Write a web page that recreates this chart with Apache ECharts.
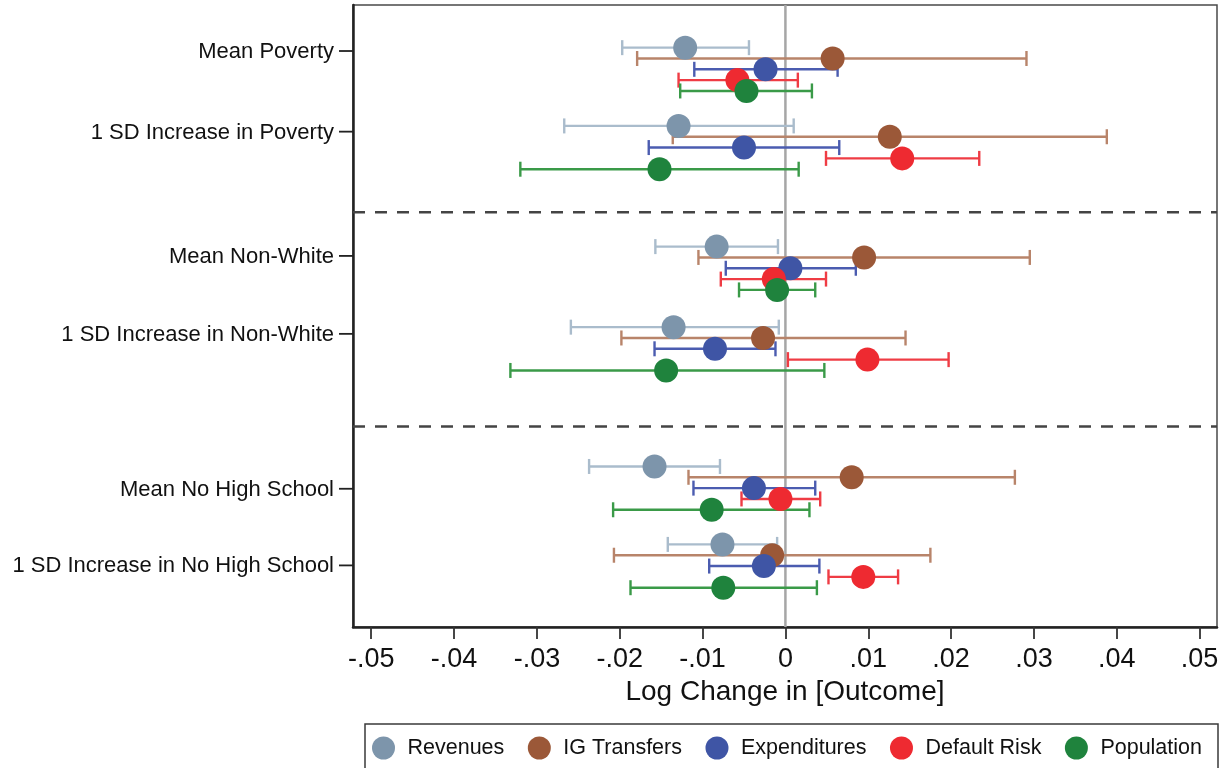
<!DOCTYPE html>
<html>
<head>
<meta charset="utf-8">
<script src="https://cdn.jsdelivr.net/npm/echarts@6/dist/echarts.min.js"></script>
<style>
  html, body { margin: 0; padding: 0; background: #fff; }
  #chart { width: 1229px; height: 768px; }
</style>
</head>
<body>
<div id="chart"></div>
<script>
// Row labels, top to bottom
const categories = [
  'Mean Poverty',
  '1 SD Increase in Poverty',
  'Mean Non-White',
  '1 SD Increase in Non-White',
  'Mean No High School',
  '1 SD Increase in No High School'
];
const seriesNames = ['Revenues', 'IG Transfers', 'Expenditures', 'Default Risk', 'Population'];

// Point estimates and confidence bounds (log change), one value per row
const revenuesEst  = [-0.0121, -0.0129, -0.0083, -0.0135, -0.0158, -0.0076];
const revenuesLow  = [-0.0197, -0.0267, -0.0157, -0.0259, -0.0237, -0.0142];
const revenuesHigh = [-0.0044,  0.0010, -0.0009, -0.0008, -0.0079, -0.0010];

const transfersEst  = [ 0.0057,  0.0126,  0.0095, -0.0027,  0.0080, -0.0016];
const transfersLow  = [-0.0179, -0.0136, -0.0105, -0.0198, -0.0117, -0.0207];
const transfersHigh = [ 0.0291,  0.0388,  0.0295,  0.0145,  0.0277,  0.0175];

const expendituresEst  = [-0.0024, -0.0050,  0.0006, -0.0085, -0.0038, -0.0026];
const expendituresLow  = [-0.0110, -0.0165, -0.0072, -0.0158, -0.0111, -0.0092];
const expendituresHigh = [ 0.0063,  0.0065,  0.0085, -0.0012,  0.0036,  0.0041];

const defaultEst  = [-0.0058,  0.0141, -0.0014,  0.0099, -0.0006,  0.0094];
const defaultLow  = [-0.0129,  0.0049, -0.0078,  0.0003, -0.0053,  0.0052];
const defaultHigh = [ 0.0015,  0.0234,  0.0049,  0.0197,  0.0042,  0.0136];

const populationEst  = [-0.0047, -0.0152, -0.0010, -0.0144, -0.0089, -0.0075];
const populationLow  = [-0.0127, -0.0320, -0.0056, -0.0332, -0.0208, -0.0187];
const populationHigh = [ 0.0032,  0.0016,  0.0036,  0.0047,  0.0029,  0.0038];

// Vertical layout in row units (one unit = spacing between stacked series)
const rowStart = [3.94, 11.17, 22.32, 29.76, 42.63, 49.83];
const labelPos = [4.25, 11.70, 23.18, 30.38, 44.69, 51.77];
const dividerPos = [19.14, 38.94];
const yMax = 57.46;

// x-axis tick values
const xTicks = [-0.05, -0.04, -0.03, -0.02, -0.01, 0, 0.01, 0.02, 0.03, 0.04, 0.05];

const estimates = [revenuesEst, transfersEst, expendituresEst, defaultEst, populationEst];
const lows = [revenuesLow, transfersLow, expendituresLow, defaultLow, populationLow];
const highs = [revenuesHigh, transfersHigh, expendituresHigh, defaultHigh, populationHigh];

const pointColors = ['#7d95ab', '#9b5838', '#3f55a5', '#ee2a31', '#1f833d'];
const barColors   = ['#aabccc', '#b8846a', '#4b5cb0', '#ef3c44', '#3a9a48'];

const FONT = '"Liberation Sans", Arial, Helvetica, sans-serif';
const TEXT = '#111111';

function fmtTick(v) {
  if (Math.abs(v) < 1e-9) return '0';
  const s = Math.abs(v).toFixed(2).replace(/^0/, '');
  return (v < 0 ? '-' : '') + s;
}

const series = [];

// Zero reference line
series.push({
  name: 'zero',
  type: 'custom',
  silent: true,
  data: [[0, 0]],
  encode: { x: 0, y: 1 },
  renderItem: function (params, api) {
    const cs = params.coordSys;
    const x = api.coord([0, 0])[0];
    return {
      type: 'line',
      shape: { x1: x, y1: cs.y, x2: x, y2: cs.y + cs.height },
      style: { stroke: '#a6a6a6', lineWidth: 2.5 }
    };
  }
});

// Dashed dividers between variable groups
series.push({
  name: 'dividers',
  type: 'custom',
  silent: true,
  data: dividerPos.map(p => [0, p]),
  encode: { x: 0, y: 1 },
  renderItem: function (params, api) {
    const cs = params.coordSys;
    const y = api.coord([0, api.value(1)])[1];
    return {
      type: 'line',
      shape: { x1: cs.x, y1: y, x2: cs.x + cs.width, y2: y },
      style: { stroke: '#444', lineWidth: 2.5, lineDash: [12, 10] }
    };
  }
});

// Row labels with outward ticks on the left axis
series.push({
  name: 'rowLabels',
  type: 'custom',
  silent: true,
  data: labelPos.map(p => [0, p]),
  encode: { x: 0, y: 1 },
  renderItem: function (params, api) {
    const cs = params.coordSys;
    const y = api.coord([0, api.value(1)])[1];
    return {
      type: 'group',
      children: [
        {
          type: 'line',
          shape: { x1: cs.x - 14, y1: y, x2: cs.x, y2: y },
          style: { stroke: '#222', lineWidth: 1.8 }
        },
        {
          type: 'text',
          style: {
            text: categories[params.dataIndex],
            x: cs.x - 19,
            y: y + 1,
            align: 'right',
            verticalAlign: 'middle',
            textAlign: 'right',
            textVerticalAlign: 'middle',
            font: '22px ' + FONT,
            fill: TEXT
          }
        }
      ]
    };
  }
});

seriesNames.forEach(function (name, s) {
  const barData = categories.map((c, r) => [lows[s][r], highs[s][r], rowStart[r] + s]);
  const ptData = categories.map((c, r) => [estimates[s][r], rowStart[r] + s]);

  // Confidence interval with end caps
  series.push({
    name: name + ' CI',
    type: 'custom',
    silent: true,
    data: barData,
    encode: { x: [0, 1], y: 2 },
    renderItem: function (params, api) {
      const a = api.coord([api.value(0), api.value(2)]);
      const b = api.coord([api.value(1), api.value(2)]);
      const h = 7.5;
      const st = { stroke: barColors[s], lineWidth: 2.4 };
      return {
        type: 'group',
        children: [
          { type: 'line', shape: { x1: a[0], y1: a[1], x2: b[0], y2: b[1] }, style: st },
          { type: 'line', shape: { x1: a[0], y1: a[1] - h, x2: a[0], y2: a[1] + h }, style: st },
          { type: 'line', shape: { x1: b[0], y1: b[1] - h, x2: b[0], y2: b[1] + h }, style: st }
        ]
      };
    }
  });

  // Point estimate
  series.push({
    name: name,
    type: 'scatter',
    symbol: 'circle',
    symbolSize: 24,
    itemStyle: { color: pointColors[s], opacity: 1 },
    data: ptData
  });
});

const chart = echarts.init(document.getElementById('chart'), null, { renderer: 'canvas' });
chart.setOption({
  animation: false,
  backgroundColor: '#ffffff',
  grid: {
    left: 353, top: 5, width: 864, height: 622,
    show: true, borderColor: '#4a4a4a', borderWidth: 1.5, backgroundColor: 'transparent'
  },
  xAxis: {
    type: 'value',
    min: -0.0522,
    max: 0.0521,
    name: 'Log Change in [Outcome]',
    nameLocation: 'middle',
    nameGap: 50,
    nameTextStyle: { fontFamily: FONT, fontSize: 28, color: TEXT },
    axisLine: { show: true, onZero: false, lineStyle: { color: '#222', width: 2.5 } },
    axisTick: {
      show: true, length: 12, inside: false,
      customValues: xTicks,
      lineStyle: { color: '#333', width: 1.8 }
    },
    axisLabel: {
      customValues: xTicks,
      formatter: fmtTick,
      margin: 19,
      fontFamily: FONT,
      fontSize: 27,
      color: TEXT
    },
    splitLine: { show: false }
  },
  yAxis: {
    type: 'value',
    inverse: true,
    min: 0,
    max: yMax,
    axisLine: { show: true, onZero: false, lineStyle: { color: '#222', width: 2.5 } },
    axisTick: { show: false },
    axisLabel: { show: false },
    splitLine: { show: false }
  },
  legend: {
    data: seriesNames,
    left: 372,
    top: 736.5,
    padding: 0,
    icon: 'circle',
    itemWidth: 24,
    itemHeight: 23,
    itemGap: 23.5,
    selectedMode: false,
    textStyle: {
      fontFamily: FONT,
      fontSize: 21.5,
      color: TEXT,
      padding: [0, 0, 0, 7],
      lineHeight: 23
    }
  },
  graphic: [
    {
      type: 'rect',
      silent: true,
      shape: { x: 365, y: 724, width: 853, height: 60 },
      style: { fill: 'none', stroke: '#3a3a3a', lineWidth: 1.5 }
    }
  ],
  series: series
});
</script>
</body>
</html>
